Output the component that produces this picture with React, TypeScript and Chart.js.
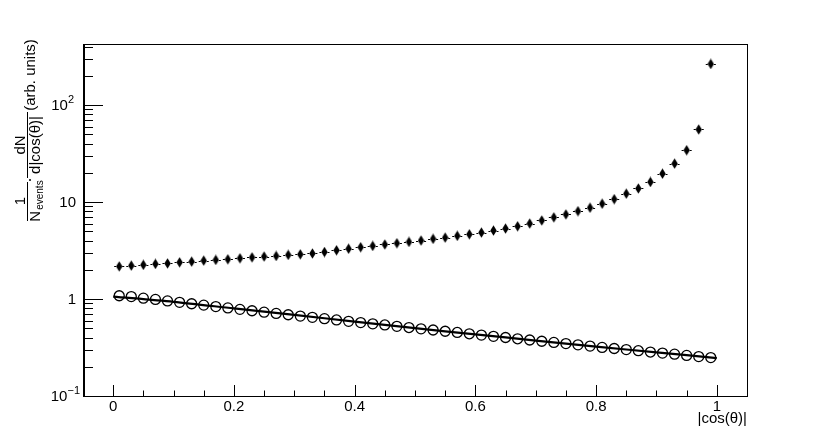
import { useEffect, useRef } from 'react';
import { Chart, registerables } from 'chart.js';
Chart.register(...registerables);

const binCenters = [
  0.01, 0.03, 0.05, 0.07, 0.09, 0.11, 0.13, 0.15, 0.17, 0.19,
  0.21, 0.23, 0.25, 0.27, 0.29, 0.31, 0.33, 0.35, 0.37, 0.39,
  0.41, 0.43, 0.45, 0.47, 0.49, 0.51, 0.53, 0.55, 0.57, 0.59,
  0.61, 0.63, 0.65, 0.67, 0.69, 0.71, 0.73, 0.75, 0.77, 0.79,
  0.81, 0.83, 0.85, 0.87, 0.89, 0.91, 0.93, 0.95, 0.97, 0.99,
];
const binHalfWidth = 0.01;

const diamondSeries = [
  2.17, 2.21, 2.25, 2.30, 2.33, 2.39, 2.43, 2.49, 2.53, 2.57,
  2.63, 2.69, 2.74, 2.78, 2.85, 2.89, 2.95, 3.05, 3.18, 3.30,
  3.42, 3.53, 3.65, 3.76, 3.88, 4.01, 4.17, 4.30, 4.48, 4.65,
  4.85, 5.08, 5.33, 5.62, 6.00, 6.45, 6.95, 7.45, 8.05, 8.73,
  9.60, 10.7, 12.2, 13.8, 16.1, 19.6, 24.9, 34.2, 56.0, 265,
];

const circleSeries = [
  1.08, 1.06, 1.02, 0.99, 0.956, 0.924, 0.894, 0.865, 0.836, 0.809,
  0.782, 0.757, 0.732, 0.710, 0.688, 0.667, 0.647, 0.627, 0.608, 0.589,
  0.571, 0.555, 0.540, 0.523, 0.508, 0.493, 0.479, 0.465, 0.452, 0.438,
  0.425, 0.412, 0.401, 0.389, 0.378, 0.367, 0.357, 0.347, 0.337, 0.327,
  0.317, 0.309, 0.301, 0.293, 0.284, 0.277, 0.270, 0.262, 0.255, 0.249,
];

const fitX = [0, 0.1, 0.2, 0.3, 0.4, 0.5, 0.6, 0.7, 0.8, 0.9, 1.0];
const fitY = [1.06, 0.935, 0.80, 0.685, 0.585, 0.50, 0.432, 0.373, 0.323, 0.282, 0.246];

const xTicks = [0, 0.2, 0.4, 0.6, 0.8, 1];
const xTickLabels = ['0', '0.2', '0.4', '0.6', '0.8', '1'];
const xMinorTicks = [0.05, 0.1, 0.15, 0.25, 0.3, 0.35, 0.45, 0.5, 0.55, 0.65, 0.7, 0.75, 0.85, 0.9, 0.95, 1.05];
const yTicks = [0.1, 1, 10, 100];
const yTickBase = ['10', '1', '10', '10'];
const yTickExp = ['\u22121', '', '', '2'];
const yMinorTicks = [
  0.2, 0.3, 0.4, 0.5, 0.6, 0.7, 0.8, 0.9,
  2, 3, 4, 5, 6, 7, 8, 9,
  20, 30, 40, 50, 60, 70, 80, 90,
  200, 300, 400,
];

const FONT = '"Liberation Sans", Arial, Helvetica, sans-serif';

function makeDiamond(): HTMLCanvasElement {
  const c = document.createElement('canvas');
  c.width = 7;
  c.height = 11;
  const g = c.getContext('2d')!;
  g.fillStyle = '#000';
  g.beginPath();
  g.moveTo(3.5, 0.3);
  g.lineTo(6.7, 5.5);
  g.lineTo(3.5, 10.7);
  g.lineTo(0.3, 5.5);
  g.closePath();
  g.fill();
  return c;
}

const rootPlugin = {
  id: 'rootStyle',
  beforeDatasetsDraw(chart: any) {
    const { ctx, scales } = chart;
    const xs = scales.x;
    const ys = scales.y;
    ctx.save();
    ctx.strokeStyle = '#000';
    ctx.lineWidth = 1.2;
    for (let i = 0; i < binCenters.length; i++) {
      const px = xs.getPixelForValue(binCenters[i]);
      const py = Math.round(ys.getPixelForValue(diamondSeries[i])) + 0.5;
      const l = xs.getPixelForValue(binCenters[i] - binHalfWidth);
      const r = xs.getPixelForValue(binCenters[i] + binHalfWidth);
      ctx.beginPath();
      ctx.moveTo(l + 1, py);
      ctx.lineTo(px - 3, py);
      ctx.moveTo(px + 3, py);
      ctx.lineTo(r - 1, py);
      ctx.stroke();
    }
    ctx.restore();
  },
  afterDraw(chart: any) {
    const { ctx, chartArea, scales } = chart;
    const xs = scales.x;
    const ys = scales.y;
    const { left, right, top, bottom } = chartArea;
    ctx.save();
    ctx.strokeStyle = '#000';
    ctx.fillStyle = '#000';
    // frame
    ctx.lineWidth = 1;
    ctx.strokeRect(Math.round(left) + 0.5, Math.round(top) + 0.5, Math.round(right - left), Math.round(bottom - top));
    ctx.beginPath();
    ctx.moveTo(Math.round(left) + 1.5, top);
    ctx.lineTo(Math.round(left) + 1.5, bottom);
    ctx.stroke();
    // x ticks
    ctx.beginPath();
    for (const v of xTicks) {
      const px = Math.round(xs.getPixelForValue(v)) + 0.5;
      ctx.moveTo(px, bottom);
      ctx.lineTo(px, bottom - 11);
    }
    for (const v of xMinorTicks) {
      const px = Math.round(xs.getPixelForValue(v)) + 0.5;
      ctx.moveTo(px, bottom);
      ctx.lineTo(px, bottom - 5.5);
    }
    // y ticks
    for (const v of yTicks) {
      const py = Math.round(ys.getPixelForValue(v)) + 0.5;
      ctx.moveTo(left, py);
      ctx.lineTo(left + 20, py);
    }
    for (const v of yMinorTicks) {
      const py = Math.round(ys.getPixelForValue(v)) + 0.5;
      ctx.moveTo(left, py);
      ctx.lineTo(left + 10, py);
    }
    ctx.stroke();

    // x labels
    ctx.font = `15px ${FONT}`;
    ctx.textAlign = 'center';
    ctx.textBaseline = 'alphabetic';
    xTicks.forEach((v, i) => {
      ctx.fillText(xTickLabels[i], xs.getPixelForValue(v), 411);
    });
    // x title
    ctx.textAlign = 'right';
    ctx.fillText('|cos(\u03b8)|', right, 423);

    // y labels
    yTicks.forEach((v, i) => {
      const py = ys.getPixelForValue(v);
      ctx.textBaseline = 'middle';
      if (yTickExp[i]) {
        ctx.font = `11px ${FONT}`;
        const ew = ctx.measureText(yTickExp[i]).width;
        const expRight = i === 0 ? 80 : 74;
        ctx.textAlign = 'right';
        ctx.fillText(yTickExp[i], expRight, py - 5);
        ctx.font = `15px ${FONT}`;
        ctx.fillText(yTickBase[i], expRight - ew, py + 1);
      } else {
        ctx.font = `15px ${FONT}`;
        ctx.textAlign = 'right';
        ctx.fillText(yTickBase[i], 76, py + 1);
      }
    });

    // y title (rotated)
    const T = (text: string, baseX: number, centerY: number, size: number, align: CanvasTextAlign = 'center') => {
      ctx.save();
      ctx.rotate(-Math.PI / 2);
      ctx.font = `${size}px ${FONT}`;
      ctx.textAlign = align;
      ctx.textBaseline = 'alphabetic';
      ctx.fillText(text, -centerY, baseX);
      ctx.restore();
    };
    const fs = 15;
    const barX = 27.5;
    const c1 = 201;
    const c2 = 145;
    ctx.lineWidth = 1;
    ctx.beginPath();
    ctx.moveTo(barX, 182);
    ctx.lineTo(barX, 221);
    ctx.moveTo(barX, 112);
    ctx.lineTo(barX, 178);
    ctx.stroke();
    // 1 / N_events
    T('1', 24.5, c1, fs);
    ctx.save();
    ctx.font = `${fs}px ${FONT}`;
    const nW = ctx.measureText('N').width;
    ctx.font = `10px ${FONT}`;
    const eW = ctx.measureText('events').width;
    ctx.restore();
    const total = nW + 1 + eW;
    const startY = c1 + total / 2;
    T('N', 40, startY, fs, 'left');
    T('events', 43, startY - nW - 1, 10, 'left');
    // dot
    ctx.beginPath();
    ctx.arc(30, 180, 1, 0, Math.PI * 2);
    ctx.fill();
    // dN / d|cos(θ)|
    T('dN', 24.5, c2, fs);
    T('d|cos(\u03b8)|', 40, c2, fs);
    T('(arb. units)', 35, 75, fs);

    ctx.restore();
  },
};

export default function App() {
  const ref = useRef<HTMLCanvasElement | null>(null);
  useEffect(() => {
    if (!ref.current) return;
    const diamond = makeDiamond();
    const chart = new Chart(ref.current, {
      type: 'scatter',
      data: {
        datasets: [
          {
            label: 'diamonds',
            data: binCenters.map((x, i) => ({ x, y: diamondSeries[i] })),
            pointStyle: diamond as any,
            pointRadius: 5,
            showLine: false,
          },
          {
            label: 'circles',
            data: binCenters.map((x, i) => ({ x, y: circleSeries[i] })),
            pointStyle: 'circle',
            pointRadius: 5,
            borderColor: '#000',
            borderWidth: 1.3,
            backgroundColor: 'rgba(0,0,0,0)',
            showLine: false,
          },
          {
            label: 'fit',
            type: 'line',
            data: fitX.map((x, i) => ({ x, y: fitY[i] })),
            borderColor: '#000',
            borderWidth: 2.2,
            pointRadius: 0,
            tension: 0.3,
            fill: false,
          } as any,
        ],
      },
      options: {
        animation: false,
        responsive: false,
        maintainAspectRatio: false,
        events: [],
        layout: { padding: { left: 83, top: 44, right: 83, bottom: 44 } },
        plugins: { legend: { display: false }, tooltip: { enabled: false }, title: { display: false } },
        scales: {
          x: { type: 'linear', min: -0.05, max: 1.05, display: false },
          y: { type: 'logarithmic', min: 0.1, max: 426, display: false },
        },
      },
      plugins: [rootPlugin],
    });
    return () => chart.destroy();
  }, []);
  return (
    <div style={{ position: 'fixed', left: 0, top: 0, width: 830, height: 440, background: '#fff' }}>
      <canvas ref={ref} width={830} height={440} style={{ width: 830, height: 440, display: 'block' }} />
    </div>
  );
}
